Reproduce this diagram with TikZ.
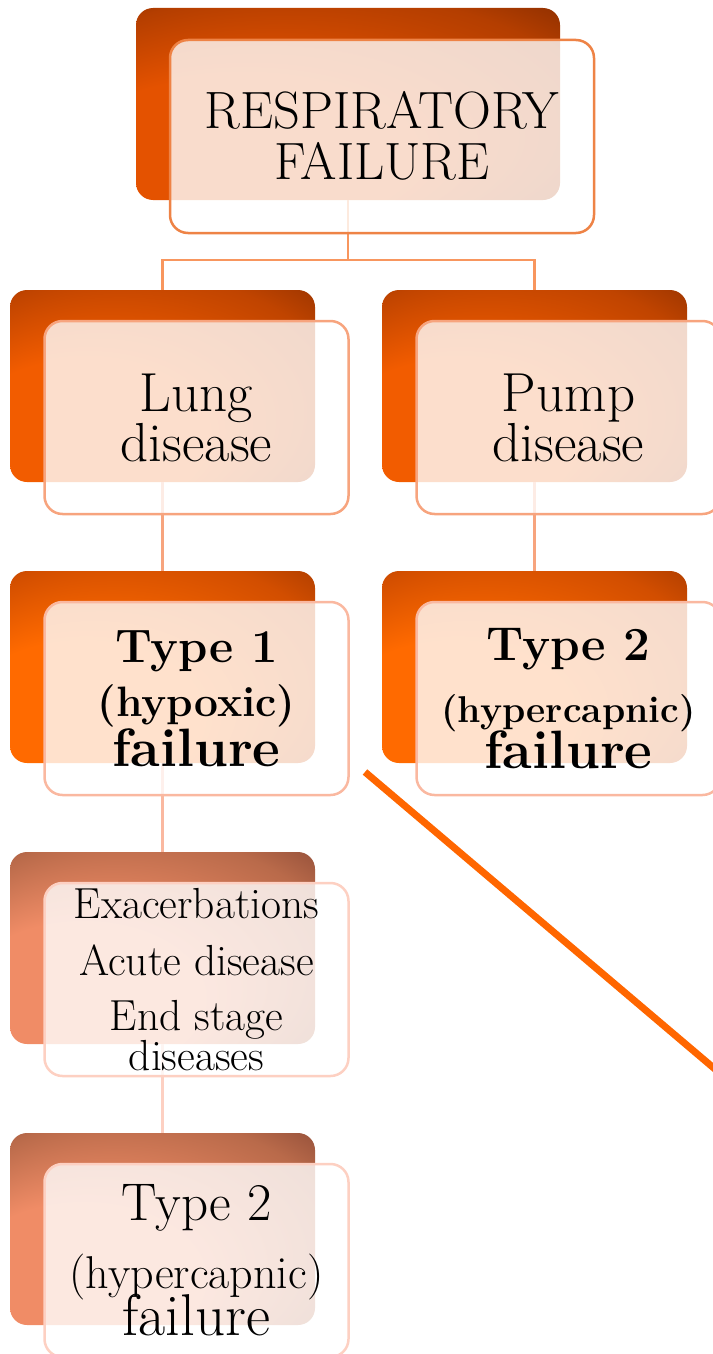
\documentclass[tikz,border=0pt]{standalone}
\usepackage{tikz}
\usetikzlibrary{positioning}
\definecolor{rim}{HTML}{EE8346}
\definecolor{rim2}{HTML}{F7A47E}
\definecolor{rim3}{HTML}{FAB8A0}
\definecolor{rim4}{HTML}{FDD0C2}
\definecolor{wire}{HTML}{F8965E}
\definecolor{slashcol}{HTML}{FF6600}
\definecolor{topbright}{HTML}{E45200}
\definecolor{topmid}{HTML}{B43E00}
\definecolor{topdark}{HTML}{782600}
\definecolor{lungbright}{HTML}{F25C00}
\definecolor{lungmid}{HTML}{C04400}
\definecolor{lungdark}{HTML}{862C00}
\definecolor{typebright}{HTML}{FF6A00}
\definecolor{typemid}{HTML}{D24E00}
\definecolor{typedark}{HTML}{9A3400}
\definecolor{palebright}{HTML}{F08C66}
\definecolor{palemid}{HTML}{B96A4A}
\definecolor{paledark}{HTML}{7E4030}
% glow from the lower left corner of each plate
\pgfdeclareradialshading{glowtop}{\pgfpoint{-25bp}{-25bp}}{color(0bp)=(topbright); color(20bp)=(topbright); color(34bp)=(topmid); color(42bp)=(topdark)}
\pgfdeclareradialshading{glowlung}{\pgfpoint{-25bp}{-25bp}}{color(0bp)=(lungbright); color(20bp)=(lungbright); color(34bp)=(lungmid); color(42bp)=(lungdark)}
\pgfdeclareradialshading{glowtype}{\pgfpoint{-25bp}{-25bp}}{color(0bp)=(typebright); color(20bp)=(typebright); color(34bp)=(typemid); color(42bp)=(typedark)}
\pgfdeclareradialshading{glowpale}{\pgfpoint{-25bp}{-25bp}}{color(0bp)=(palebright); color(20bp)=(palebright); color(34bp)=(palemid); color(42bp)=(paledark)}
\lineskiplimit=-\maxdimen
\tikzset{
    %Define style for the shaded back plates
    plate/.style={
    rectangle,
    rounded corners=17pt,
    minimum width=305pt,
    minimum height=192pt,
    inner sep=0pt,
    outer sep=0pt,
    shade,
    shading=#1
    },
    %Define style for the front cards
    card/.style={
    rectangle,
    rounded corners=18pt,
    draw=#1, line width=2.5pt,
    fill=white, fill opacity=0.8, text opacity=1,
    minimum width=304pt,
    minimum height=193pt,
    inner sep=0pt,
    outer sep=0pt,
    align=center,
    xshift=34pt,
    yshift=-31.5pt
    },
    % Define connector style
    link/.style={
    draw=#1,
    line width=2.5pt},
    slash/.style={
    draw=slashcol,
    line width=7pt}
}
\begin{document}
\begin{tikzpicture}[x=1pt,y=-1pt,node distance=89pt]
\useasboundingbox (0,0) rectangle (712,1354);
%plates
\node[plate=glowtop, minimum width=424pt](rfback) at (348,104){};
\node[plate=glowlung](lungback) at (162.5,386){};
\node[plate=glowlung, right=67pt of lungback](pumpback){};
\node[plate=glowtype, below=of lungback](type1back){};
\node[plate=glowtype, below=of pumpback](type2back){};
\node[plate=glowpale, below=of type1back](causeback){};
\node[plate=glowpale, below=of causeback](type2bback){};
%connectors
\draw[link=wire] (lungback.north) -- ++(0pt,30pt) -| (rfback.south);
\draw[link=wire] (pumpback.north) -- ++(0pt,30pt) -| (rfback.south);
\draw[link=rim2] (lungback.south) -- (type1back.north);
\draw[link=rim2] (pumpback.south) -- (type2back.north);
\draw[link=rim3] (type1back.south) -- (causeback.north);
\draw[link=rim4] (causeback.south) -- (type2bback.north);
%cards
\node[card=rim, minimum width=424pt, yshift=-1pt, text depth=3pt, font=\fontsize{52.5}{51}\selectfont](rf) at (rfback){RESPIRATORY\\FAILURE};
\node[card=rim2, font=\fontsize{55}{50}\selectfont](lung) at (lungback){Lung\\disease};
\node[card=rim2, font=\fontsize{55}{50}\selectfont](pump) at (pumpback){Pump\\disease};
\node[card=rim3, font=\bfseries\fontsize{47}{50}\selectfont](type1) at (type1back){Type 1\\[4pt]
  \fontsize{42.5}{50}\selectfont(hypoxic)\\
  \fontsize{54}{50}\selectfont failure};
\node[card=rim3, font=\bfseries\fontsize{47.5}{46}\selectfont](type2) at (type2back){Type 2\\[16pt]
  \fontsize{37.3}{46}\selectfont(hypercapnic)\\
  \fontsize{54}{46}\selectfont failure};
\node[card=rim4, font=\fontsize{43.5}{40}\selectfont](cause) at (causeback){Exacerbations\\[17pt]
  Acute disease\\[15pt]
  End stage\\diseases};
\node[card=rim4, font=\fontsize{53}{47}\selectfont](type2b) at (type2bback){Type 2\\[21pt]
  \fontsize{46}{47}\selectfont(hypercapnic)\\
  \fontsize{59}{47}\selectfont failure};
%stray stroke
\coordinate (slashtop) at (365,772);
\coordinate (slashend) at (722,1075);
\draw[slash] (slashtop) -- (slashend);
\end{tikzpicture}
\end{document}
